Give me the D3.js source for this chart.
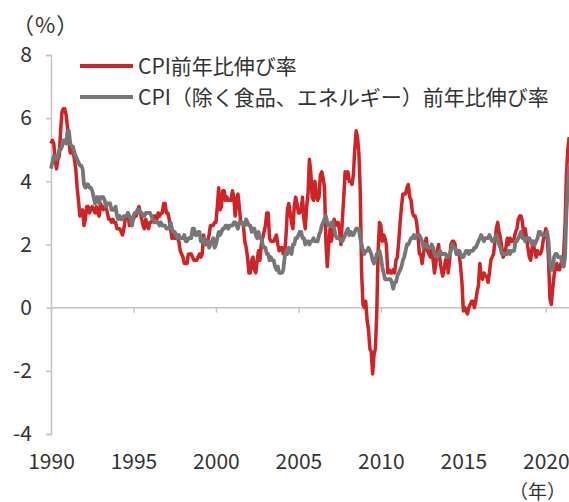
<!DOCTYPE html>
<html>
<head>
<meta charset="utf-8">
<script src="https://cdn.jsdelivr.net/npm/d3@7/dist/d3.min.js"></script>
<style>
  html, body { margin: 0; padding: 0; background: #fff; }
  svg { display: block; font-family: "Noto Sans CJK JP", "Noto Sans", sans-serif; }
</style>
</head>
<body>
<div id="chart"></div>
<script>
// monthly series, first value = Jan 1990
const startYear = 1990;

const cpi = [
  5.2, 5.3, 5.2, 4.7, 4.4, 4.7, 4.8, 5.6, 6.2, 6.3, 6.3, 6.1, // 1990
  5.7, 5.3, 4.9, 4.9, 5.0, 4.7, 4.4, 3.8, 3.4, 2.9, 3.0, 3.1,
  2.6, 2.8, 3.2, 3.2, 3.0, 3.1, 3.2, 3.1, 3.0, 3.2, 3.0, 2.9,
  3.3, 3.2, 3.1, 3.2, 3.2, 3.0, 2.8, 2.8, 2.7, 2.8, 2.7, 2.7,
  2.5, 2.5, 2.5, 2.4, 2.3, 2.5, 2.8, 2.9, 3.0, 2.6, 2.7, 2.7,
  2.8, 2.9, 2.9, 3.1, 3.2, 3.0, 2.8, 2.6, 2.5, 2.8, 2.6, 2.5, // 1995
  2.7, 2.7, 2.8, 2.9, 2.9, 2.8, 3.0, 2.9, 3.0, 3.0, 3.3, 3.3,
  3.0, 3.0, 2.8, 2.5, 2.2, 2.3, 2.2, 2.2, 2.2, 2.1, 1.8, 1.7,
  1.6, 1.4, 1.4, 1.4, 1.7, 1.7, 1.7, 1.6, 1.5, 1.5, 1.5, 1.6,
  1.7, 1.6, 1.7, 2.3, 2.1, 2.0, 2.1, 2.3, 2.6, 2.6, 2.6, 2.7,
  2.7, 3.2, 3.8, 3.1, 3.2, 3.7, 3.7, 3.4, 3.5, 3.4, 3.4, 3.4, // 2000
  3.7, 3.5, 2.9, 3.3, 3.6, 3.2, 2.7, 2.7, 2.6, 2.1, 1.9, 1.6,
  1.1, 1.1, 1.5, 1.6, 1.2, 1.1, 1.5, 1.8, 1.5, 2.0, 2.2, 2.4,
  2.6, 3.0, 3.0, 2.2, 2.1, 2.1, 2.1, 2.2, 2.3, 2.0, 1.8, 1.9,
  1.9, 1.7, 1.7, 2.3, 3.1, 3.3, 3.0, 2.7, 2.5, 3.2, 3.5, 3.3,
  3.0, 3.0, 3.1, 3.5, 2.8, 2.5, 3.2, 3.6, 4.7, 4.3, 3.5, 3.4, // 2005
  4.0, 3.6, 3.4, 3.5, 4.2, 4.3, 4.1, 3.8, 2.1, 1.3, 2.0, 2.5,
  2.1, 2.4, 2.8, 2.6, 2.7, 2.7, 2.4, 2.0, 2.8, 3.5, 4.3, 4.1,
  4.3, 4.0, 4.0, 3.9, 4.2, 5.0, 5.6, 5.4, 4.9, 3.7, 1.1, 0.1,
  0.0, 0.2, -0.4, -0.7, -1.3, -1.4, -2.1, -1.5, -1.3, -0.2, 1.8, 2.7,
  2.6, 2.1, 2.3, 2.2, 2.0, 1.1, 1.2, 1.1, 1.1, 1.2, 1.1, 1.5, // 2010
  1.6, 2.1, 2.7, 3.2, 3.6, 3.6, 3.6, 3.8, 3.9, 3.5, 3.4, 3.0,
  2.9, 2.9, 2.7, 2.3, 1.7, 1.7, 1.4, 1.7, 2.0, 2.2, 1.8, 1.7,
  1.6, 2.0, 1.5, 1.1, 1.4, 1.8, 2.0, 1.5, 1.2, 1.0, 1.2, 1.5,
  1.6, 1.1, 1.5, 2.0, 2.1, 2.1, 2.0, 1.7, 1.7, 1.7, 1.3, 0.8,
  -0.1, 0.0, -0.1, -0.2, 0.0, 0.1, 0.2, 0.2, 0.0, 0.2, 0.5, 0.7, // 2015
  1.4, 1.0, 0.9, 1.1, 1.0, 1.0, 0.8, 1.1, 1.5, 1.6, 1.7, 2.1,
  2.5, 2.7, 2.4, 2.2, 1.9, 1.6, 1.7, 1.9, 2.2, 2.0, 2.2, 2.1,
  2.1, 2.2, 2.4, 2.5, 2.8, 2.9, 2.9, 2.7, 2.3, 2.5, 2.2, 1.9,
  1.6, 1.5, 1.9, 2.0, 1.8, 1.6, 1.8, 1.7, 1.7, 1.8, 2.1, 2.3,
  2.5, 2.3, 1.5, 0.3, 0.1, 0.6, 1.0, 1.3, 1.4, 1.2, 1.2, 1.4, // 2020
  1.4, 1.7, 2.6, 4.2, 5.0, 5.4
];

const core = [
  4.4, 4.6, 4.8, 4.8, 4.7, 4.8, 5.0, 5.0, 5.1, 5.3, 5.3, 5.2, // 1990
  5.6, 5.6, 5.2, 5.1, 5.1, 4.9, 4.8, 4.7, 4.6, 4.5, 4.5, 4.4,
  3.9, 3.8, 3.9, 3.9, 3.8, 3.8, 3.7, 3.5, 3.3, 3.5, 3.5, 3.3,
  3.5, 3.5, 3.5, 3.4, 3.2, 3.3, 3.3, 3.3, 3.1, 3.1, 3.1, 3.2,
  2.9, 2.8, 2.9, 2.8, 2.8, 2.9, 2.9, 2.9, 3.0, 2.9, 2.8, 2.6,
  2.9, 3.0, 3.0, 3.1, 3.1, 3.0, 3.0, 2.9, 2.9, 3.0, 3.0, 3.0, // 1995
  3.0, 2.9, 2.8, 2.7, 2.7, 2.7, 2.7, 2.6, 2.7, 2.6, 2.6, 2.6,
  2.5, 2.5, 2.5, 2.7, 2.5, 2.4, 2.4, 2.3, 2.2, 2.3, 2.2, 2.2,
  2.2, 2.3, 2.1, 2.1, 2.2, 2.2, 2.2, 2.5, 2.5, 2.3, 2.3, 2.4,
  2.4, 2.1, 2.1, 2.2, 2.0, 2.1, 2.1, 1.9, 2.0, 2.1, 2.2, 1.9,
  2.0, 2.2, 2.4, 2.3, 2.4, 2.5, 2.5, 2.6, 2.6, 2.5, 2.6, 2.6, // 2000
  2.6, 2.7, 2.7, 2.6, 2.5, 2.7, 2.7, 2.7, 2.6, 2.6, 2.8, 2.7,
  2.6, 2.6, 2.4, 2.5, 2.5, 2.3, 2.2, 2.4, 2.2, 2.2, 2.0, 1.9,
  1.9, 1.7, 1.7, 1.5, 1.6, 1.5, 1.5, 1.3, 1.2, 1.3, 1.1, 1.1,
  1.1, 1.2, 1.6, 1.8, 1.7, 1.9, 1.8, 1.7, 2.0, 2.0, 2.2, 2.2,
  2.3, 2.4, 2.4, 2.2, 2.2, 2.0, 2.1, 2.1, 2.0, 2.1, 2.1, 2.2, // 2005
  2.1, 2.1, 2.1, 2.3, 2.4, 2.6, 2.7, 2.8, 2.9, 2.7, 2.6, 2.6,
  2.7, 2.7, 2.5, 2.3, 2.2, 2.2, 2.2, 2.1, 2.1, 2.2, 2.3, 2.4,
  2.5, 2.3, 2.4, 2.3, 2.3, 2.4, 2.5, 2.5, 2.5, 2.2, 2.0, 1.8,
  1.7, 1.8, 1.8, 1.9, 1.8, 1.7, 1.5, 1.4, 1.5, 1.7, 1.7, 1.8,
  1.6, 1.3, 1.1, 0.9, 0.9, 0.9, 0.9, 0.9, 0.8, 0.6, 0.8, 0.8, // 2010
  1.0, 1.1, 1.2, 1.3, 1.5, 1.6, 1.8, 2.0, 2.0, 2.1, 2.2, 2.2,
  2.3, 2.2, 2.3, 2.3, 2.3, 2.2, 2.1, 1.9, 2.0, 2.0, 1.9, 1.9,
  1.9, 2.0, 1.9, 1.7, 1.7, 1.6, 1.7, 1.8, 1.7, 1.7, 1.7, 1.7,
  1.6, 1.6, 1.7, 1.8, 2.0, 1.9, 1.9, 1.7, 1.7, 1.8, 1.7, 1.6,
  1.6, 1.7, 1.8, 1.8, 1.7, 1.8, 1.8, 1.8, 1.9, 1.9, 2.0, 2.1, // 2015
  2.2, 2.3, 2.2, 2.1, 2.2, 2.2, 2.2, 2.3, 2.2, 2.1, 2.1, 2.2,
  2.3, 2.2, 2.0, 1.9, 1.7, 1.7, 1.7, 1.7, 1.7, 1.8, 1.7, 1.8,
  1.8, 1.8, 2.1, 2.1, 2.2, 2.3, 2.4, 2.2, 2.2, 2.1, 2.2, 2.2,
  2.2, 2.1, 2.0, 2.1, 2.0, 2.1, 2.2, 2.4, 2.4, 2.3, 2.3, 2.3,
  2.3, 2.4, 2.1, 1.4, 1.2, 1.2, 1.6, 1.7, 1.7, 1.6, 1.6, 1.6, // 2020
  1.4, 1.3, 1.6, 3.0, 3.8, 4.5
];

const yTicks = [-4, -2, 0, 2, 4, 6, 8];
const xTicks = [1990, 1995, 2000, 2005, 2010, 2015, 2020];
const seriesNames = ['CPI前年比伸び率', 'CPI（除く食品、エネルギー）前年比伸び率'];

const width = 569;
const height = 502;
const red = '#cf2326';
const grey = '#767676';
const axisColor = '#c4c4c4';
const textColor = '#333';

const svg = d3.select('#chart')
  .append('svg')
  .attr('width', width)
  .attr('height', height);

const x = d3.scaleLinear().domain([1990, 2020]).range([51, 545.8]);
const y = d3.scaleLinear().domain([-4, 8]).range([434, 55]);

const toPoints = (arr) => arr.map((v, i) => ({ t: startYear + i / 12, v }));

// y axis (plain hyphen for negatives, like the source)
const axisY = svg.append('g')
  .attr('transform', `translate(${x(1990)},0)`)
  .call(d3.axisLeft(y).tickValues(yTicks).tickSize(5).tickPadding(14).tickFormat((d) => String(d)));
axisY.select('.domain').attr('stroke', axisColor).attr('stroke-width', 1.5);
axisY.selectAll('line').attr('stroke', axisColor).attr('stroke-width', 1.5);
axisY.selectAll('text')
  .attr('fill', textColor)
  .style('font-size', '21px')
  .style('font-family', '"Noto Sans CJK JP", "Noto Sans", sans-serif');

// zero line with year ticks
const axisX = svg.append('g')
  .attr('transform', `translate(0,${y(0)})`)
  .call(d3.axisBottom(x).tickValues(xTicks).tickSize(5).tickFormat(''));
axisX.select('.domain')
  .attr('d', `M${x(1990)},0H${width}`)
  .attr('stroke', axisColor).attr('stroke-width', 1.5);
axisX.selectAll('line').attr('stroke', axisColor).attr('stroke-width', 1.5);

// year labels at the bottom
const labelsX = svg.append('g')
  .attr('transform', 'translate(0,454)')
  .call(d3.axisBottom(x).tickValues(xTicks).tickSize(0).tickPadding(0).tickFormat(d3.format('d')));
labelsX.select('.domain').remove();
labelsX.selectAll('text')
  .attr('fill', textColor)
  .style('font-size', '21px')
  .style('font-family', '"Noto Sans CJK JP", "Noto Sans", sans-serif');

const line = d3.line()
  .x((d) => x(d.t))
  .y((d) => y(d.v))
  .curve(d3.curveLinear);

svg.append('path')
  .datum(toPoints(cpi))
  .attr('fill', 'none')
  .attr('stroke', red)
  .attr('stroke-width', 3.5)
  .attr('stroke-linejoin', 'round')
  .attr('d', line);

svg.append('path')
  .datum(toPoints(core))
  .attr('fill', 'none')
  .attr('stroke', grey)
  .attr('stroke-width', 3.8)
  .attr('stroke-linejoin', 'round')
  .attr('d', line);

// legend
const legend = svg.append('g');
[red, grey].forEach((c, i) => {
  const ly = 66 + i * 31;
  legend.append('line')
    .attr('x1', 80).attr('x2', 133)
    .attr('y1', ly).attr('y2', ly)
    .attr('stroke', c)
    .attr('stroke-width', 4);
  legend.append('text')
    .attr('x', 138).attr('y', ly)
    .attr('dy', '0.36em')
    .attr('fill', textColor)
    .style('font-size', '21px')
    .text(seriesNames[i]);
});

// unit labels
svg.append('text')
  .attr('x', 12).attr('y', 25)
  .attr('dy', '0.36em')
  .attr('fill', textColor)
  .style('font-size', '22px')
  .style('letter-spacing', '1px')
  .text('（%）');

svg.append('text')
  .attr('x', 566).attr('y', 492)
  .attr('dy', '0.36em')
  .attr('text-anchor', 'end')
  .attr('fill', textColor)
  .style('font-size', '19px')
  .text('（年）');
</script>
</body>
</html>
